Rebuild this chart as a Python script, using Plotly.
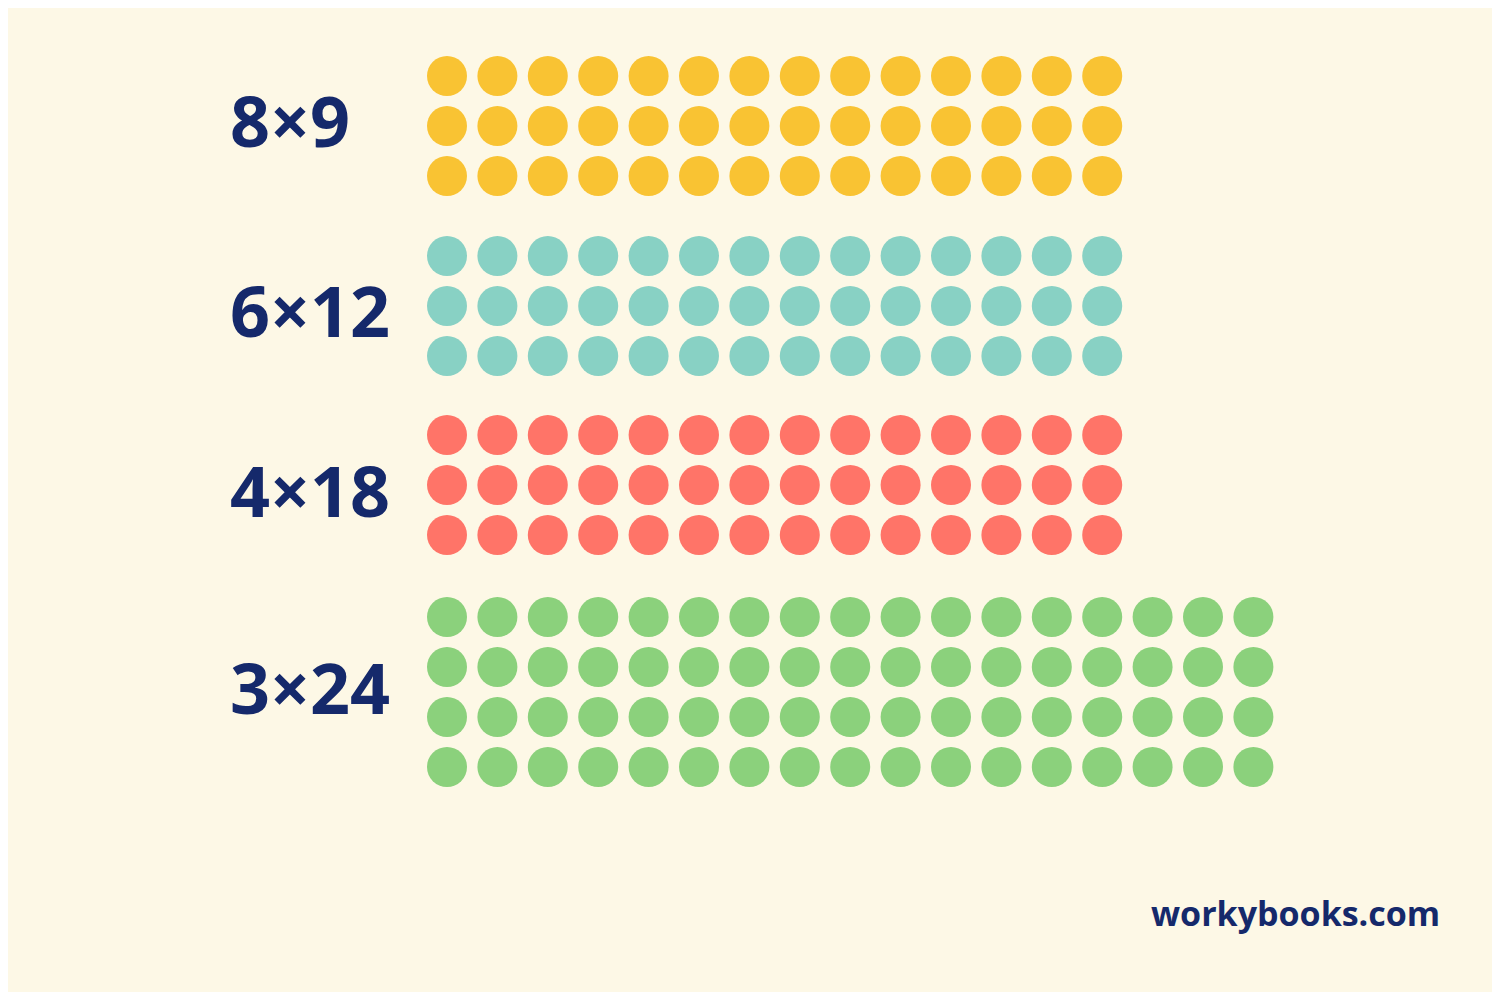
import plotly.graph_objects as go

# each array: label, rows, columns, colour
labels = ["8×9", "6×12", "4×18", "3×24"]
rows = [3, 3, 3, 4]
cols = [14, 14, 14, 17]
colors = ["#F9C333", "#88D1C4", "#FF7468", "#8BD17C"]
row_top = [76, 256, 435, 617]
label_y = [120, 310, 490, 687]

fig = go.Figure()
for lab, r, c, col, top, ly in zip(labels, rows, cols, colors, row_top, label_y):
    xs, ys = [], []
    for i in range(r):
        for j in range(c):
            xs.append(447 + j * 50.4)
            ys.append(top + i * 50)
    fig.add_trace(go.Scatter(x=xs, y=ys, mode="markers", showlegend=False, hoverinfo="skip",
                             marker=dict(size=40, color=col, line=dict(width=0))))
    fig.add_annotation(x=228, y=ly, text=f"<b>{lab}</b>", showarrow=False, xanchor="left",
                       font=dict(family="Open Sans", size=70, color="#15296B"))

fig.add_annotation(x=1442, y=913, text="<b>workybooks.com</b>", showarrow=False, xanchor="right",
                   font=dict(family="Open Sans", size=34, color="#15296B"))

# page body has an 8px margin, so shift the ranges to keep page pixels = data units
fig.update_layout(width=1484, height=984, margin=dict(l=0, r=0, t=0, b=0),
                  paper_bgcolor="#FDF8E6", plot_bgcolor="#FDF8E6",
                  xaxis=dict(range=[8, 1492], visible=False),
                  yaxis=dict(range=[992, 8], visible=False))
fig.write_html("out.html")
